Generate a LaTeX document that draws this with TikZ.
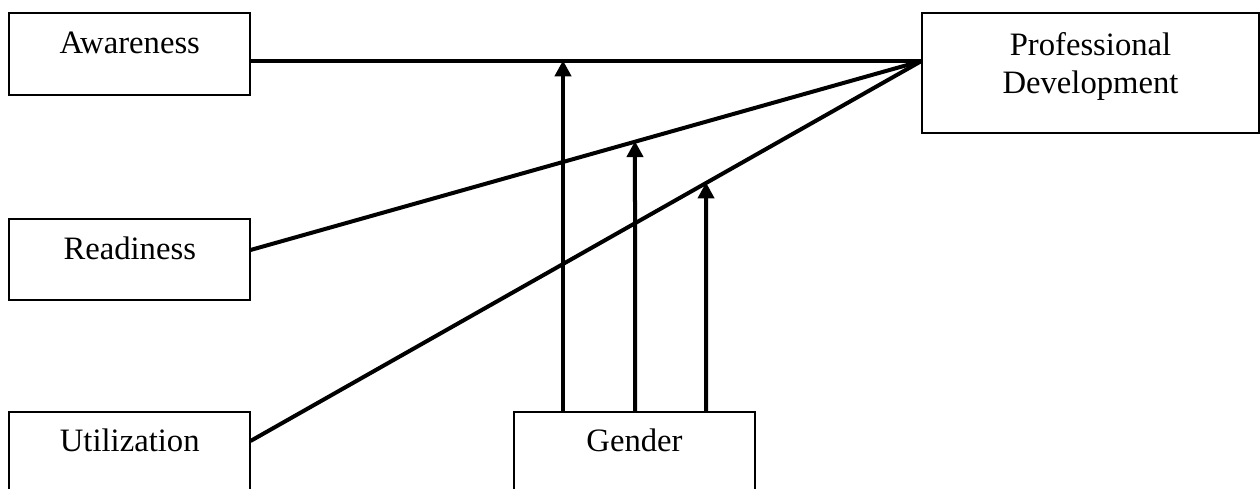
\documentclass[tikz,border=0pt]{standalone}
\usepackage{fontspec}
\setmainfont{Liberation Serif}
\usetikzlibrary{arrows.meta,calc}
\tikzset{
  box/.style={draw=black, line width=1.5pt, rectangle, inner sep=0pt, minimum width=181pt},
  lbl/.style={anchor=base, inner sep=0pt, font=\fontsize{24.5pt}{29.25pt}\selectfont},
  link/.style={draw=black, line width=3pt},
  mod/.style={draw=black, line width=3pt, -{Triangle[length=12pt,width=12pt]}, shorten >=-0.5pt}
}
\begin{document}
\begin{tikzpicture}[x=0.75pt,y=-0.75pt]
\useasboundingbox (0,0) rectangle (1260,489);
\clip (0,0) rectangle (1260,489);
\fill[white] (0,0) rectangle (1260,489);
% boxes
\node[box, minimum height=61.5pt] (aw) at (129.75,54) {};
\node[box, minimum height=60.75pt] (rd) at (129.75,259.5) {};
\node[box, minimum height=90pt] (ut) at (129.75,472) {};
\node[box, minimum width=252.75pt, minimum height=90pt] (pd) at (1090.5,73) {};
\node[box, minimum height=90pt] (gd) at (634.5,472) {};
% labels
\node[lbl] (awt) at (129.75,53.5) {Awareness};
\node[lbl] (rdt) at (129.75,259.5) {Readiness};
\node[lbl] (utt) at (129.75,451) {Utilization};
\node[lbl] (gdt) at (634.5,451) {Gender};
\node[lbl] (pdt1) at (1090.5,55) {Professional};
\node[lbl] (pdt2) at (1090.5,93.5) {Development};
% convergence point
\coordinate (conv) at (921.5,61);
\coordinate (awe) at (aw.east |- conv);
\coordinate (rde) at (250.5,250);
\coordinate (ute) at (250.5,441);
\draw[link] (awe) -- (conv);
\draw[link] (rde) -- (conv);
\draw[link] (ute) -- (conv);
% moderator arrows
\coordinate (g1) at (563,412);
\coordinate (g2) at (635,412);
\coordinate (g3) at (706,412);
\coordinate (t1) at (g1 |- conv);
\coordinate (t2) at (intersection of rde--conv and g2--{635,0});
\coordinate (t3) at (intersection of ute--conv and g3--{706,0});
\draw[mod] (g1) -- (t1);
\draw[mod] (g2) -- (t2);
\draw[mod] (g3) -- (t3);
\end{tikzpicture}
\end{document}
